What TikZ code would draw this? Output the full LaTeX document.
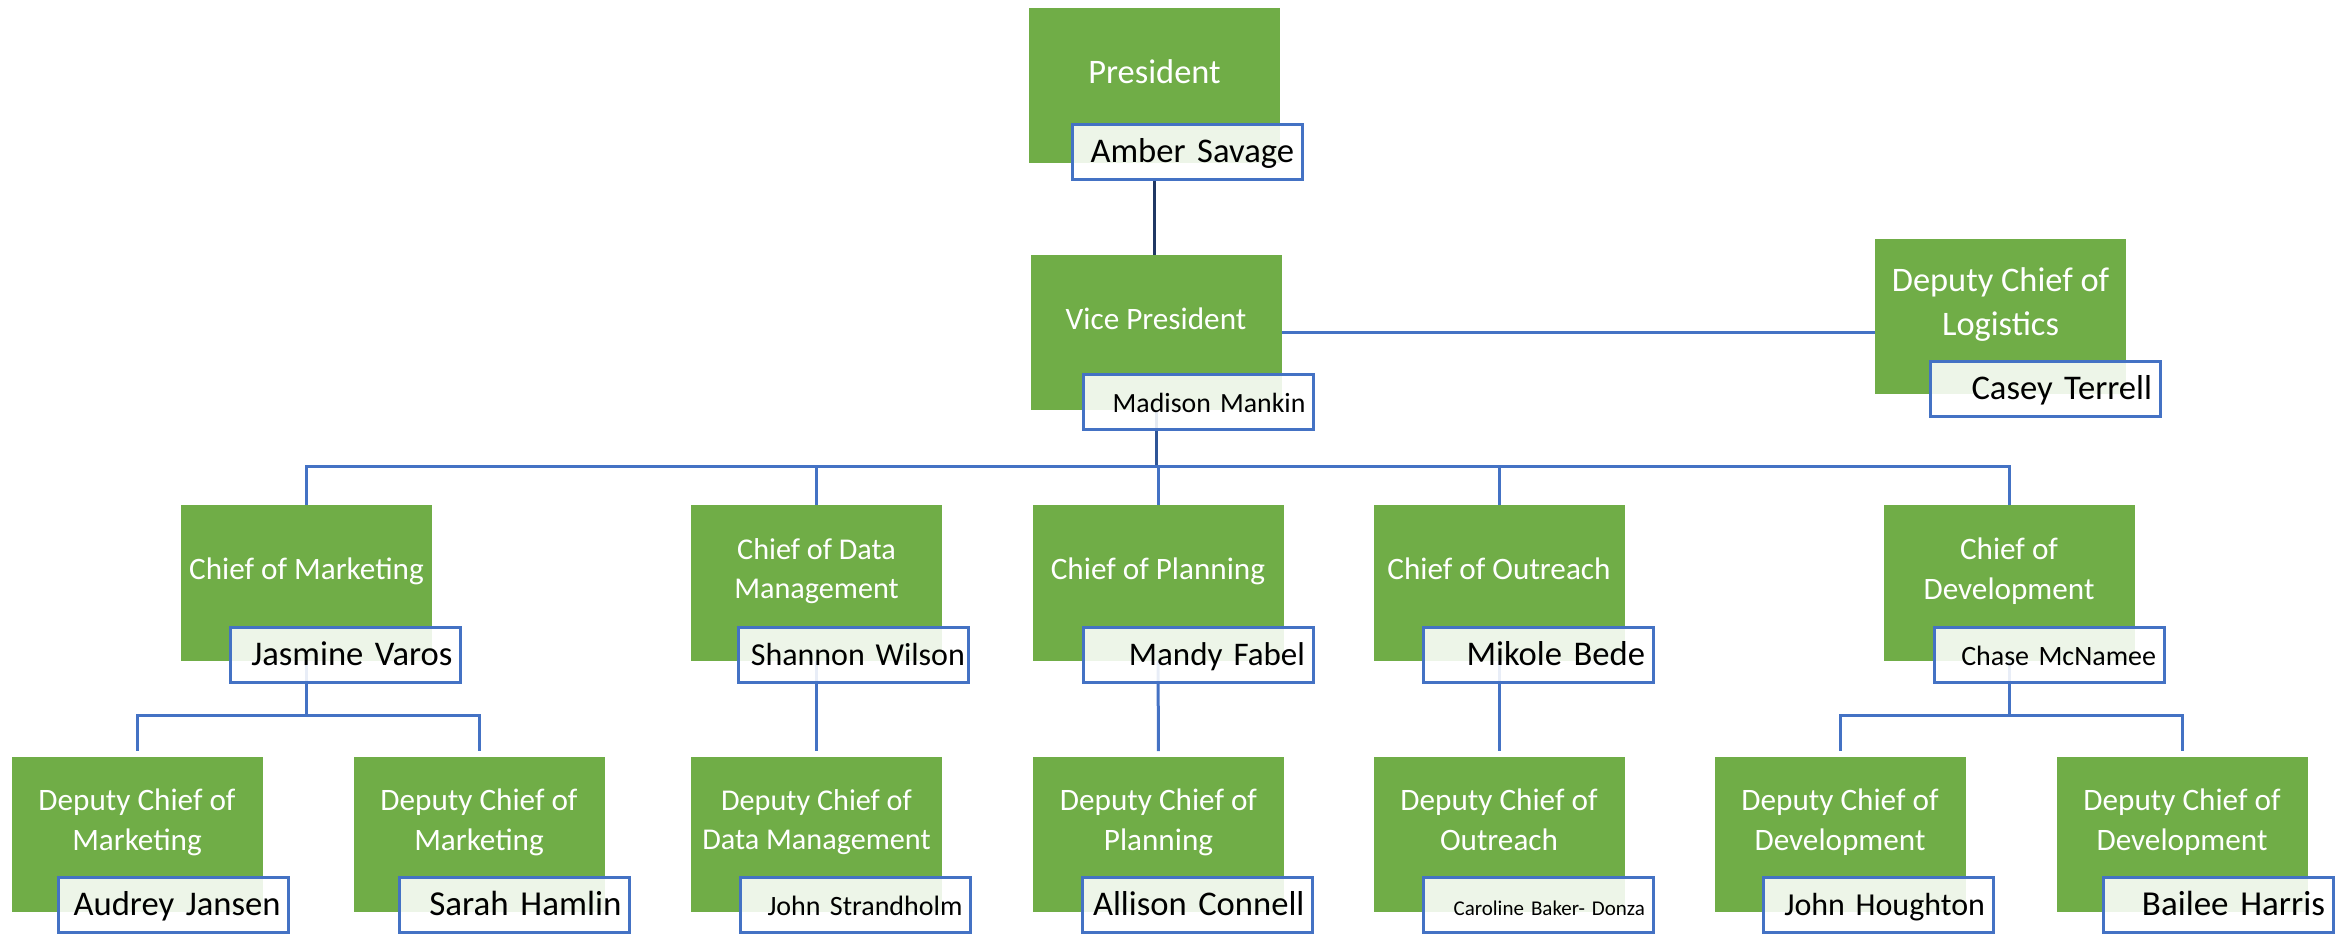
\documentclass[tikz,border=0pt]{standalone}
\usepackage{fontspec}
\setmainfont{Carlito}
\usetikzlibrary{backgrounds}
\definecolor{ogreen}{HTML}{70AD47}
\definecolor{oblue}{HTML}{4472C4}
\definecolor{dblue}{HTML}{2F5597}
\definecolor{navy}{HTML}{203864}
\begin{document}
\begin{tikzpicture}[x=0.5pt,y=-0.5pt,
  gbox/.style={fill=ogreen, minimum width=125.5pt, minimum height=77.5pt, inner sep=0pt},
  ttl/.style={text=white, font=\fontsize{15.6}{19.8}\selectfont, align=center, anchor=center, yshift=5.75pt, inner sep=0pt},
  nbox/.style={draw=oblue, line width=1.5pt, fill=white, fill opacity=0.88, text opacity=1,
    minimum width=115pt, minimum height=27.5pt, inner xsep=4pt, inner ysep=0pt,
    text width=107pt, align=right, text height=14pt, text depth=3.5pt,
    font=\fontsize{17.3}{20}\selectfont},
  conn/.style={oblue, line width=1.5pt},
]
\useasboundingbox (0,0) rectangle (2351,935);

% top
\node[gbox, label={[ttl, font=\fontsize{17.2}{21.8}\selectfont]center:{President\strut}}] (pres) at (1154.5,86) {};
\node[nbox] (presn) at (1187,152) {Amber Savage};

\node[gbox, label={[ttl]center:{Vice President\strut}}] (vp) at (1156,333) {};
\node[nbox, font=\fontsize{13.9}{16}\selectfont] (vpn) at (1198.5,402.5) {Madison Mankin};

\node[gbox, label={[ttl, font=\fontsize{17.2}{22}\selectfont]center:{Deputy Chief of\strut\\Logistics\strut}}] (lg) at (2000.5,316.5) {};
\node[nbox] (lgn) at (2045,389.5) {Casey Terrell};

% chiefs
\node[gbox, label={[ttl]center:{Chief of Marketing\strut}}] (cmk) at (306.5,583) {};
\node[nbox] (cmkn) at (345.5,655) {Jasmine Varos};

\node[gbox, label={[ttl, font=\fontsize{15.1}{19.5}\selectfont]center:{Chief of Data\strut\\Management\strut}}] (cdm) at (816.5,583) {};
\node[nbox, font=\fontsize{16}{19}\selectfont, text width=112pt, inner xsep=1.5pt] (cdmn) at (853,655) {Shannon Wilson};

\node[gbox, label={[ttl]center:{Chief of Planning\strut}}] (cpl) at (1158,583) {};
\node[nbox, font=\fontsize{16.5}{19}\selectfont] (cpln) at (1198,655) {Mandy Fabel};

\node[gbox, label={[ttl]center:{Chief of Outreach\strut}}] (cou) at (1499,583) {};
\node[nbox] (coun) at (1538,655) {Mikole Bede};

\node[gbox, label={[ttl]center:{Chief of\strut\\Development\strut}}] (cdv) at (2009,583) {};
\node[nbox, font=\fontsize{14}{16}\selectfont] (cdvn) at (2049,655) {Chase McNamee};

% deputies
\node[gbox, label={[ttl]center:{Deputy Chief of\strut\\Marketing\strut}}] (d1) at (137,834) {};
\node[nbox] (d1n) at (173.5,905) {Audrey Jansen};

\node[gbox, label={[ttl]center:{Deputy Chief of\strut\\Marketing\strut}}] (d2) at (479,834) {};
\node[nbox, font=\fontsize{17.5}{20}\selectfont] (d2n) at (514.5,905) {Sarah Hamlin};

\node[gbox, label={[ttl, font=\fontsize{15.1}{19.5}\selectfont]center:{Deputy Chief of\strut\\Data Management\strut}}] (d3) at (816.5,834) {};
\node[nbox, font=\fontsize{14}{16}\selectfont] (d3n) at (855.5,905) {John Strandholm};

\node[gbox, label={[ttl]center:{Deputy Chief of\strut\\Planning\strut}}] (d4) at (1158.5,834) {};
\node[nbox] (d4n) at (1197.5,905) {Allison Connell};

\node[gbox, label={[ttl]center:{Deputy Chief of\strut\\Outreach\strut}}] (d5) at (1499,834) {};
\node[nbox, font=\fontsize{10.5}{12}\selectfont] (d5n) at (1538,905) {Caroline Baker- Donza};

\node[gbox, label={[ttl]center:{Deputy Chief of\strut\\Development\strut}}] (d6) at (1840,834) {};
\node[nbox, font=\fontsize{16}{19}\selectfont] (d6n) at (1878,905) {John Houghton};

\node[gbox, label={[ttl]center:{Deputy Chief of\strut\\Development\strut}}] (d7) at (2182,834) {};
\node[nbox, font=\fontsize{17.5}{20}\selectfont] (d7n) at (2218,905) {Bailee Harris};

\coordinate (bus) at (1157,467);
\coordinate (smk) at (306.5,715);
\coordinate (sdv) at (2009,715);

\begin{pgfonlayer}{background}
\draw[navy, line width=1.5pt] (pres.center |- presn.south) -- (pres.center |- vp.north);
\draw[conn] (vp.east) -- (vp.east -| lg.west);
\draw[dblue, line width=1.5pt] (vp.south) -- (vp.south |- bus);
\draw[conn] (bus) -| (cmk.north);
\draw[conn] (bus) -| (cdm.north);
\draw[conn] (bus) -| (cpl.north);
\draw[conn] (bus) -| (cou.north);
\draw[conn] (bus) -| (cdv.north);
\draw[conn] (cmk.south) -- (smk);
\draw[conn, shorten >=2.5pt] (smk) -| (d1.north);
\draw[conn, shorten >=2.5pt] (smk) -| (d2.north);
\draw[conn, shorten >=2.5pt] (cdm.south) -- (d3.north);
\draw[conn, shorten >=2.5pt] (cpl.south) -- (d4.north);
\draw[conn, shorten >=2.5pt] (cou.south) -- (d5.north);
\draw[conn] (cdv.south) -- (sdv);
\draw[conn, shorten >=2.5pt] (sdv) -| (d6.north);
\draw[conn, shorten >=2.5pt] (sdv) -| (d7.north);
\end{pgfonlayer}
\end{tikzpicture}
\end{document}
